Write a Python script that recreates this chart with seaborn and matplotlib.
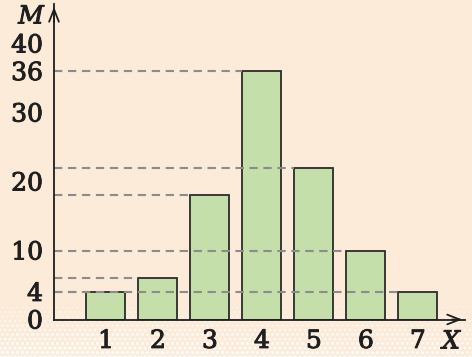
import numpy as np
import pandas as pd
import matplotlib
matplotlib.use("Agg")
import matplotlib.pyplot as plt
import matplotlib.patheffects as pe
import seaborn as sns

# data
x_vals = [1, 2, 3, 4, 5, 6, 7]
m_vals = [4, 6, 18, 36, 22, 10, 4]
y_ticks = [0, 4, 10, 20, 30, 36, 40]
x_label = "X"
y_label = "M"

BG = "#fdebd9"
BAR = "#c4dfa9"
EDGE = "#2b2b2b"
DASH = "#8c8c8c"
TXT = "#1f1f1f"

sns.set_style("white")
plt.rcParams["font.family"] = ["DejaVu Serif"]

W, H = 472, 357
fig = plt.figure(figsize=(W / 100, H / 100), dpi=100, facecolor=BG)

# halftone decoration at the bottom (figure coords, regular staggered grid)
deco = fig.add_axes([0, 0, 1, 1], zorder=0)
deco.set_xlim(0, W)
deco.set_ylim(H, 0)
deco.axis("off")
xs, ys, ss = [], [], []
row = 0
for yy in np.arange(357, 298, -4.5):
    off = 2.5 if row % 2 else 0
    frac = (yy - 298) / (357 - 298)
    for xx in np.arange(off, W + 4, 5):
        xs.append(xx)
        ys.append(yy)
        ss.append(max(0.0, 7.0 * frac ** 1.3 * (1.0 - 0.3 * xx / W)))
    row += 1
deco.scatter(xs, ys, s=ss, color="white", alpha=0.9, linewidths=0)

x0_px, x1_px = 54, 465
y0_px, y1_px = 319.5, 4
xmax = 7 + (x1_px - 418) / 51.8
ymax = (y0_px - y1_px) / 6.9
ax = fig.add_axes([x0_px / W, (H - y0_px) / H, (x1_px - x0_px) / W, (y0_px - y1_px) / H], zorder=1)
ax.set_facecolor("none")

df = pd.DataFrame({"x": x_vals, "m": m_vals})
sns.barplot(data=df, x="x", y="m", native_scale=True, width=0.75,
            color=BAR, edgecolor=EDGE, linewidth=1.3, saturation=1, ax=ax, zorder=2)
for p in ax.patches:
    p.set_facecolor(BAR)

# dashed guide lines from axis to left edge of each bar
for xv, mv in zip(x_vals, m_vals):
    ax.plot([0, xv - 0.375], [mv, mv], ls=(0, (4, 2.7)), color=DASH, lw=1.5, zorder=3)

ax.set_xlim(0, xmax)
ax.set_ylim(0, ymax)
for s in ["top", "right"]:
    ax.spines[s].set_visible(False)
for s in ["left", "bottom"]:
    ax.spines[s].set_color(TXT)
    ax.spines[s].set_linewidth(1.3)
    ax.spines[s].set_zorder(4)

ax.set_yticks(y_ticks)
ax.set_yticklabels([str(t) for t in y_ticks])
ax.set_xticks(x_vals)
ax.set_xticklabels([str(v) for v in x_vals])
ax.tick_params(axis="y", direction="inout", length=8, width=1.3, color=TXT,
               labelsize=18, labelcolor=TXT, pad=4)
ax.tick_params(axis="x", direction="inout", length=11, width=1.3, color=TXT,
               labelsize=18, labelcolor=TXT, pad=2)
ax.set_xlabel("")
ax.set_ylabel("")

thick = [pe.withStroke(linewidth=0.7, foreground=TXT)]
for lab in ax.get_xticklabels() + ax.get_yticklabels():
    lab.set_path_effects(thick)

# arrow heads
ax.annotate("", xy=(xmax, 0), xytext=(xmax - 0.3, 0),
            arrowprops=dict(arrowstyle="->,head_length=0.9,head_width=0.35", color=TXT, lw=1.3),
            annotation_clip=False)
ax.annotate("", xy=(0, ymax), xytext=(0, ymax - 3),
            arrowprops=dict(arrowstyle="->,head_length=0.9,head_width=0.35", color=TXT, lw=1.3),
            annotation_clip=False)

fig.text(31 / W, 1 - 17 / H, y_label, fontsize=18, style="italic", color=TXT,
         ha="center", va="center", path_effects=thick)
fig.text(451 / W, 1 - 342 / H, x_label, fontsize=18, style="italic", color=TXT,
         ha="center", va="center", path_effects=thick)

fig.savefig("out.png", dpi=100, facecolor=BG)
